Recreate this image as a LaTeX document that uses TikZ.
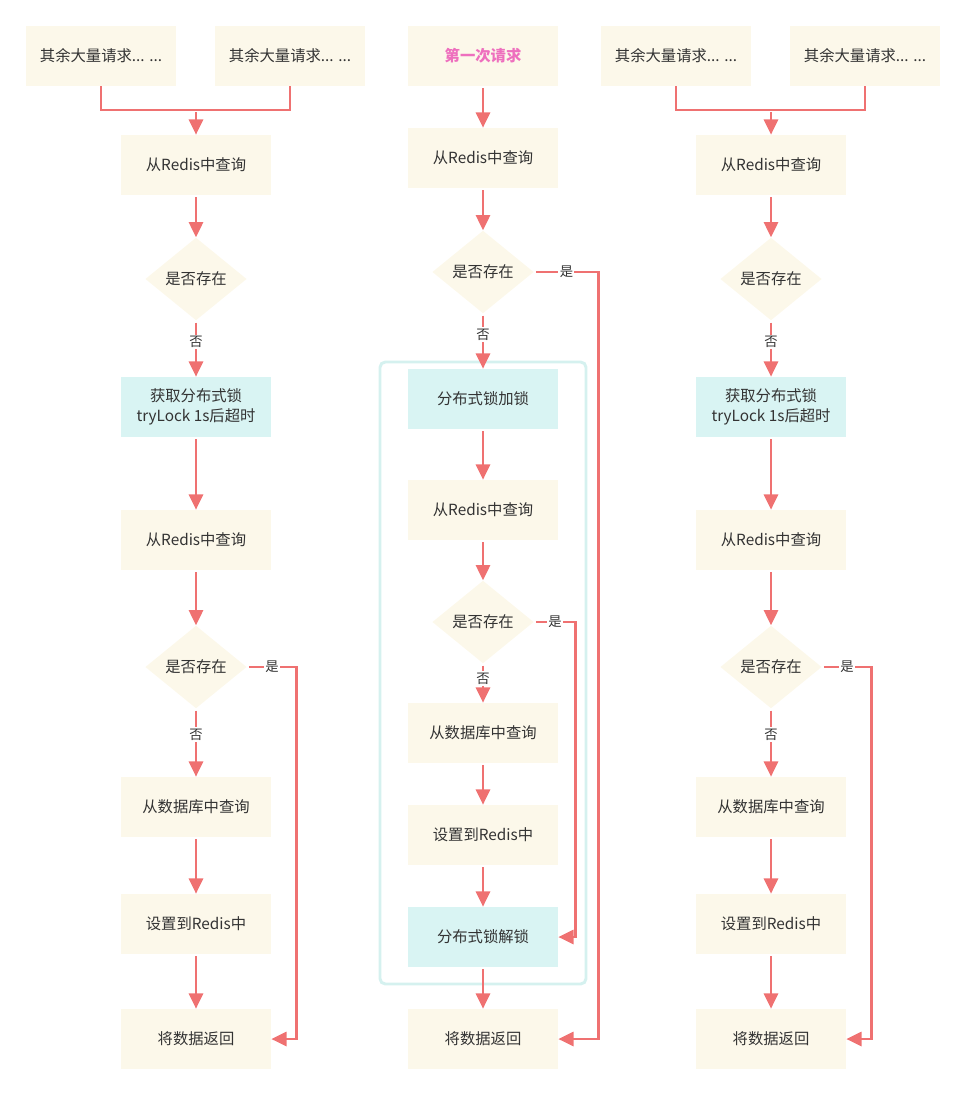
\documentclass[tikz,border=0pt]{standalone}
\usepackage{fontspec}
\setmainfont{Noto Sans CJK SC}
\usepackage{tikz}
\usetikzlibrary{arrows.meta,shapes.geometric}

\definecolor{boxbg}{HTML}{FCF8EA}
\definecolor{lockbg}{HTML}{D9F4F3}
\definecolor{lockframe}{HTML}{D5F1EF}
\definecolor{flow}{HTML}{EF7171}
\definecolor{txt}{HTML}{333333}
\definecolor{firstreq}{HTML}{EE6FBE}

\tikzset{
  stepbox/.style={rectangle, fill=boxbg, minimum width=112.5pt, minimum height=45pt,
    inner sep=2pt, text=txt, align=center, font=\fontsize{11.5}{15}\selectfont},
  lockbox/.style={stepbox, fill=lockbg},
  askbox/.style={diamond, fill=boxbg, minimum width=76pt, minimum height=62pt,
    inner sep=0pt, text=txt, font=\fontsize{11.5}{15}\selectfont},
  flowline/.style={draw=flow, line width=2.2pt},
  flowarrow/.style={flowline, shorten <=1.5pt, -{Triangle[width=10.5pt,length=11.5pt]}},
  branch/.style={fill=white, text=txt, inner sep=1pt, pos=0.38, font=\fontsize{10}{12}\selectfont},
}

\begin{document}
\begin{tikzpicture}[x=0.75pt, y=-0.75pt]

  \useasboundingbox (0,0) rectangle (967,1095);

  %====================
  % 1) 两侧的列：其余大量请求（左右相同）
  %====================
  \foreach \c/\x in {l/196, r/771} {
    \node[stepbox] (\c o1) at (\x-95,56) {其余大量请求... ...};
    \node[stepbox] (\c o2) at (\x+94,56) {其余大量请求... ...};
    \node[stepbox] (\c q1) at (\x,165) {从Redis中查询};
    \node[askbox]  (\c d1) at (\x,279) {是否存在};
    \node[lockbox] (\c lock) at (\x,407) {获取分布式锁\\tryLock 1s后超时};
    \node[stepbox] (\c q2) at (\x,540) {从Redis中查询};
    \node[askbox]  (\c d2) at (\x,667) {是否存在};
    \node[stepbox] (\c db) at (\x,807) {从数据库中查询};
    \node[stepbox] (\c set) at (\x,924) {设置到Redis中};
    \node[stepbox] (\c ret) at (\x,1039) {将数据返回};

    % 两个请求汇合
    \coordinate (\c join) at (\x,110);
    \draw[flowline] (\c o1.south) |- (\c join) -| (\c o2.south);

    \draw[flowarrow] (\c join) -- (\c q1);
    \draw[flowarrow] (\c q1) -- (\c d1);
    \draw[flowarrow] (\c d1) -- node[branch] {否} (\c lock);
    \draw[flowarrow] (\c lock) -- (\c q2);
    \draw[flowarrow] (\c q2) -- (\c d2);
    \draw[flowarrow] (\c d2) -- node[branch] {否} (\c db);
    \draw[flowarrow] (\c db) -- (\c set);
    \draw[flowarrow] (\c set) -- (\c ret);

    % 是：直接返回
    \draw[flowarrow] (\c d2.east) -- node[branch, pos=0.5] {是} ++(50,0) |- (\c ret.east);
  }

  %====================
  % 2) 中间列：第一次请求
  %====================
  % 分布式锁的范围
  \draw[lockframe, line width=2.2pt, rounded corners=4pt] (380,362) rectangle (586,984);

  \node[stepbox, text=firstreq, font=\fontsize{11.5}{15}\selectfont\bfseries] (mfirst) at (483,56) {第一次请求};
  \node[stepbox] (mq1) at (483,158) {从Redis中查询};
  \node[askbox]  (md1) at (483,272) {是否存在};
  \node[lockbox] (mlock) at (483,399) {分布式锁加锁};
  \node[stepbox] (mq2) at (483,510) {从Redis中查询};
  \node[askbox]  (md2) at (483,622) {是否存在};
  \node[stepbox] (mdb) at (483,733) {从数据库中查询};
  \node[stepbox] (mset) at (483,835) {设置到Redis中};
  \node[lockbox] (munlock) at (483,937) {分布式锁解锁};
  \node[stepbox] (mret) at (483,1039) {将数据返回};

  \draw[flowarrow] (mfirst) -- (mq1);
  \draw[flowarrow] (mq1) -- (md1);
  \draw[flowarrow] (md1) -- node[branch] {否} (mlock);
  \draw[flowarrow] (mlock) -- (mq2);
  \draw[flowarrow] (mq2) -- (md2);
  \draw[flowarrow] (md2) -- node[branch] {否} (mdb);
  \draw[flowarrow] (mdb) -- (mset);
  \draw[flowarrow] (mset) -- (munlock);
  \draw[flowarrow] (munlock) -- (mret);

  % 是：跳过
  \draw[flowarrow] (md1.east) -- node[branch, pos=0.5] {是} ++(65,0) |- (mret.east);
  \draw[flowarrow] (md2.east) -- node[branch, pos=0.5] {是} ++(42,0) |- (munlock.east);

\end{tikzpicture}
\end{document}
